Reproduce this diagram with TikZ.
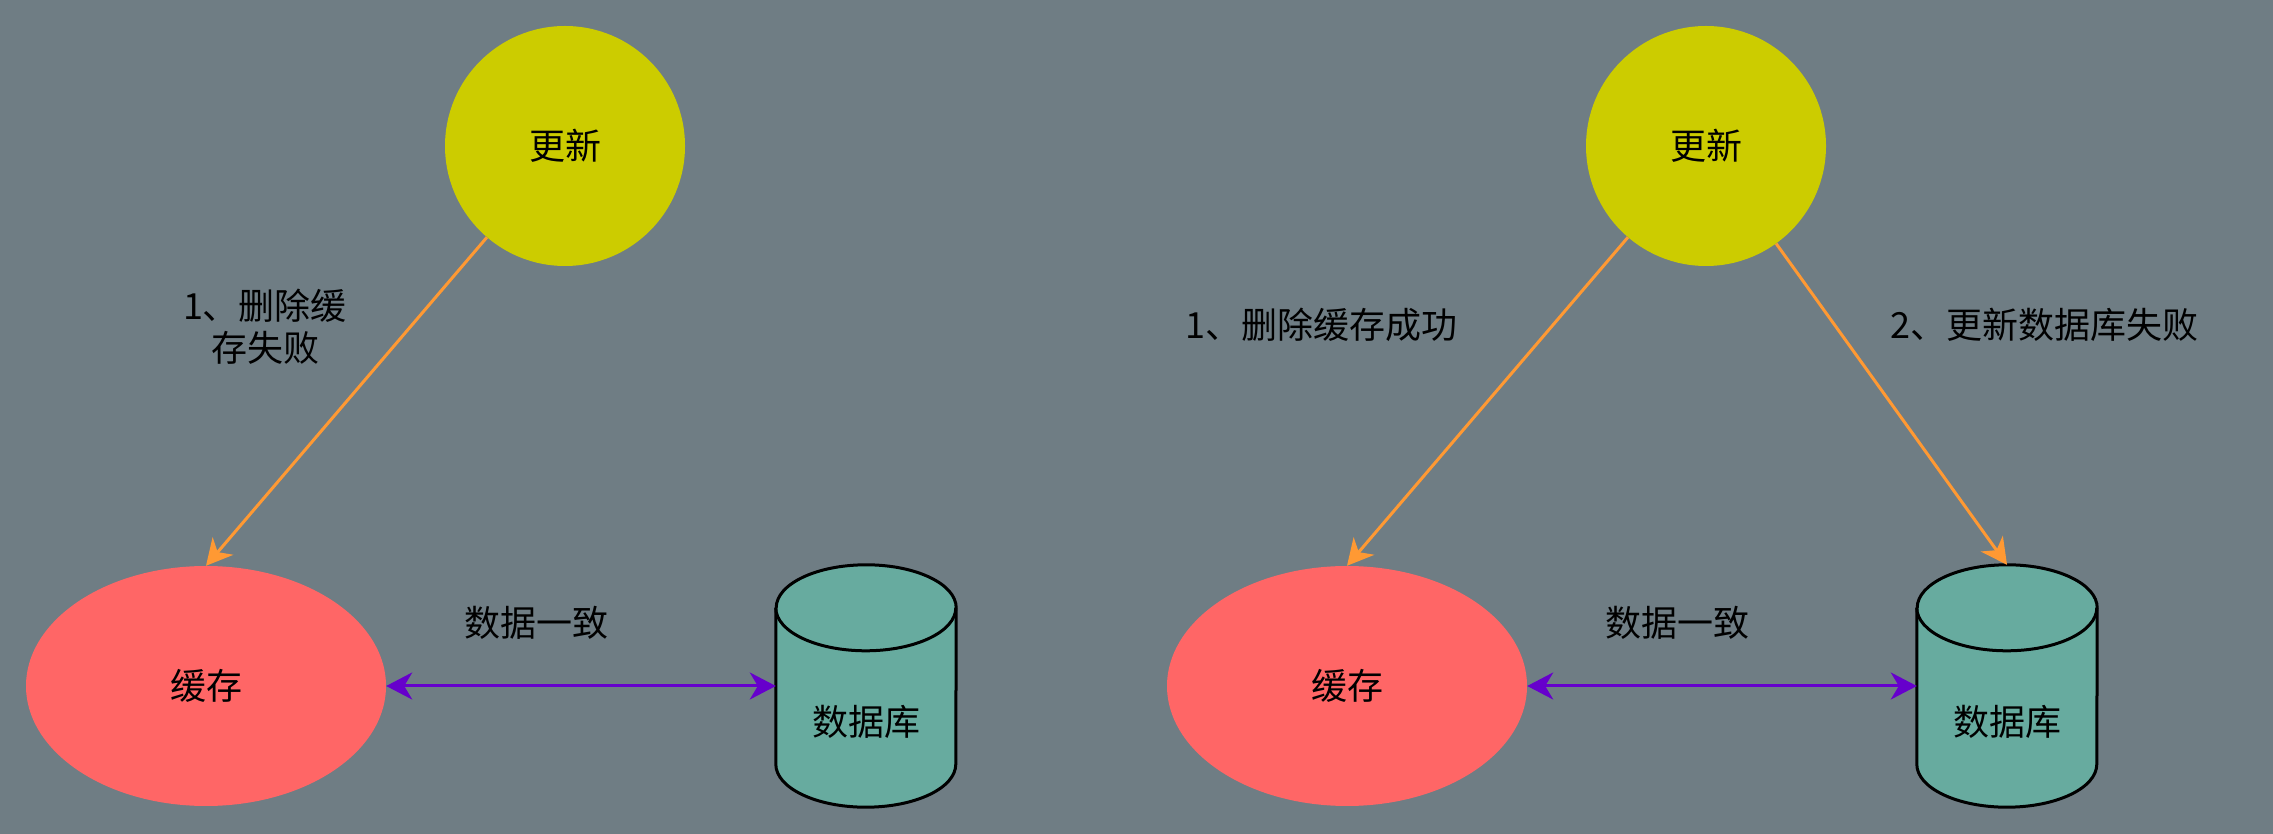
\documentclass[tikz,border=0pt]{standalone}
\usepackage{fontspec}
\usetikzlibrary{arrows.meta,shapes.geometric,calc}
\newfontfamily\cjk{Noto Sans CJK SC}

\definecolor{bgcol}{HTML}{6F7D84}
\definecolor{updfill}{HTML}{CCCC00}
\definecolor{cachefill}{HTML}{FF6666}
\definecolor{dbfill}{HTML}{67AB9F}
\definecolor{flowcol}{HTML}{FF9933}
\definecolor{synccol}{HTML}{6600CC}

\tikzset{
  txt/.style={font=\cjk\fontsize{36}{42}\selectfont, text=black, align=center, inner sep=0pt},
  updnode/.style={circle, fill=updfill, minimum size=240pt, inner sep=0pt, txt},
  cachenode/.style={ellipse, fill=cachefill, minimum width=360pt, minimum height=240pt, inner sep=0pt, txt},
  dbbody/.style={rectangle, minimum width=180pt, minimum height=242pt, inner sep=0pt},
  tipshape/.tip={Stealth[length=26pt,width=27pt,inset=8pt]},
  flowarrow/.style={draw=flowcol, line width=3pt, -tipshape, fill=flowcol},
  syncarrow/.style={draw=synccol, line width=3pt, tipshape-tipshape},
}

% cylinder drawn around a named body node
\newcommand{\dbcylinder}[1]{%
  \fill[dbfill] ($(#1.north west)+(0,-43)$) -- ($(#1.south west)+(0,43)$)
     arc[start angle=180, end angle=360, x radius=90pt, y radius=43pt]
     -- ($(#1.north east)+(0,-43)$)
     arc[start angle=0, end angle=180, x radius=90pt, y radius=43pt] -- cycle;
  \draw[black, line width=3pt] ($(#1.north west)+(0,-43)$) -- ($(#1.south west)+(0,43)$)
     arc[start angle=180, end angle=360, x radius=90pt, y radius=43pt]
     -- ($(#1.north east)+(0,-43)$)
     arc[start angle=0, end angle=180, x radius=90pt, y radius=43pt];
  \draw[black, line width=3pt] ($(#1.north west)+(0,-43)$)
     arc[start angle=180, end angle=360, x radius=90pt, y radius=43pt];
}

\begin{document}
\begin{tikzpicture}[x=1pt, y=1pt]
  \useasboundingbox (0,0) rectangle (2273,833);
  \fill[bgcol] (-10,-10) rectangle (2283,843);

  % ---- left: delete cache fails ----
  \node[updnode] (upd1) at (565,687) {更新};
  \node[cachenode] (cache1) at (206,147) {缓存};
  \node[dbbody] (db1) at (866,147) {};
  \dbcylinder{db1}
  \node[txt] (db1label) at ($(db1.center)+(0,-36)$) {数据库};
  \node[txt] (sync1label) at (536,210) {数据一致};
  \node[txt] (step1a) at (265,506) {1、删除缓\\存失败};

  \draw[flowarrow] (upd1) -- (cache1.north);
  \draw[syncarrow] (cache1.east) -- (db1.west);

  % ---- right: delete cache succeeds, db update fails ----
  \node[updnode] (upd2) at (1706,687) {更新};
  \node[cachenode] (cache2) at (1347,147) {缓存};
  \node[dbbody] (db2) at (2007,147) {};
  \dbcylinder{db2}
  \node[txt] (db2label) at ($(db2.center)+(0,-36)$) {数据库};
  \node[txt] (sync2label) at (1677,210) {数据一致};
  \node[txt] (step1b) at (1321,508) {1、删除缓存成功};
  \node[txt] (step2b) at (2044,508) {2、更新数据库失败};

  \draw[flowarrow] (upd2) -- (cache2.north);
  \draw[flowarrow] (upd2) -- (db2.north);
  \draw[syncarrow] (cache2.east) -- (db2.west);
\end{tikzpicture}
\end{document}
